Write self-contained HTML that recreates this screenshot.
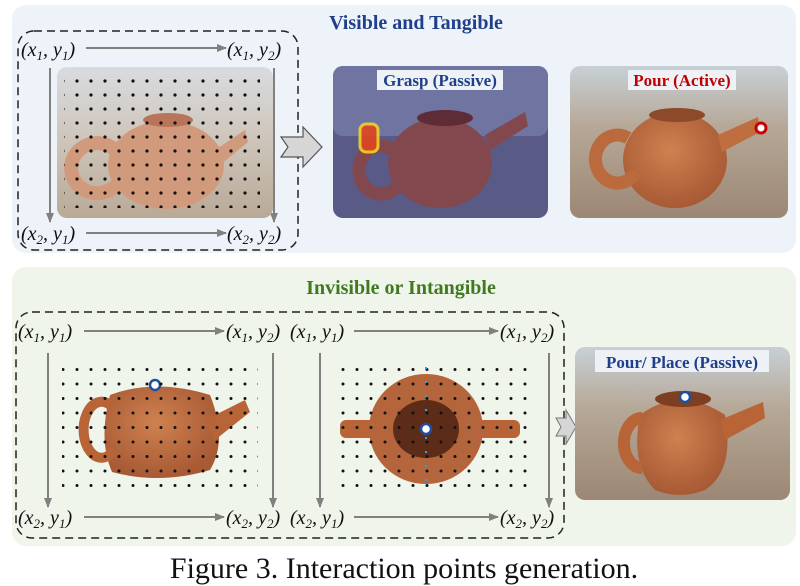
<!DOCTYPE html>
<html><head><meta charset="utf-8"><style>
html,body{margin:0;padding:0;background:#fff;}
svg{display:block;}
</style></head><body>
<svg width="800" height="586" viewBox="0 0 800 586" xmlns="http://www.w3.org/2000/svg" font-family="Liberation Serif, serif">
<defs>
<pattern id="dots" x="0" y="4" width="14" height="14" patternUnits="userSpaceOnUse"><circle cx="7" cy="7" r="1.6" fill="#111"/></pattern>
<pattern id="dots2" x="0" y="0" width="14" height="14.5" patternUnits="userSpaceOnUse"><circle cx="7" cy="7" r="1.5" fill="#111"/></pattern>
<linearGradient id="floor" x1="0" y1="0" x2="0" y2="1"><stop offset="0" stop-color="#d9dbe0"/><stop offset="0.45" stop-color="#cfc7bd"/><stop offset="1" stop-color="#b9a997"/></linearGradient>
<linearGradient id="floor3" x1="0" y1="0" x2="0" y2="1"><stop offset="0" stop-color="#c8d0d6"/><stop offset="0.4" stop-color="#b6a897"/><stop offset="1" stop-color="#9c8774"/></linearGradient>
<radialGradient id="pot" cx="0.45" cy="0.4" r="0.6"><stop offset="0" stop-color="#cf8150"/><stop offset="1" stop-color="#a75a34"/></radialGradient>
<marker id="ah" markerUnits="userSpaceOnUse" markerWidth="10" markerHeight="10" refX="9" refY="5" orient="auto"><path d="M0,1 L10,5 L0,9 z" fill="#808080"/></marker>
</defs>
<!-- top panel -->
<rect x="12" y="5" width="784" height="248" rx="14" fill="#eef3f9"/>
<text x="416" y="29" text-anchor="middle" font-size="20" font-weight="bold" fill="#1f3f8a">Visible and Tangible</text>
<rect x="18" y="31" width="280" height="219" rx="16" fill="none" stroke="#222" stroke-width="1.5" stroke-dasharray="8,5"/>
<g font-size="20" font-style="italic" fill="#111">
<text x="21" y="56">(x<tspan font-size="13" dy="4">1</tspan><tspan dy="-4">, y</tspan><tspan font-size="13" dy="4">1</tspan><tspan dy="-4">)</tspan></text>
<text x="227" y="56">(x<tspan font-size="13" dy="4">1</tspan><tspan dy="-4">, y</tspan><tspan font-size="13" dy="4">2</tspan><tspan dy="-4">)</tspan></text>
<text x="21" y="240">(x<tspan font-size="13" dy="4">2</tspan><tspan dy="-4">, y</tspan><tspan font-size="13" dy="4">1</tspan><tspan dy="-4">)</tspan></text>
<text x="227" y="240">(x<tspan font-size="13" dy="4">2</tspan><tspan dy="-4">, y</tspan><tspan font-size="13" dy="4">2</tspan><tspan dy="-4">)</tspan></text>
</g>
<g stroke="#808080" stroke-width="2" marker-end="url(#ah)">
<line x1="86" y1="48" x2="226" y2="48"/><line x1="86" y1="233" x2="226" y2="233"/>
<line x1="50" y1="68" x2="50" y2="222"/><line x1="274" y1="68" x2="274" y2="222"/>
</g>
<rect x="57" y="67" width="216" height="151" rx="10" fill="url(#floor)"/>
<g fill="#d29a7c"><ellipse cx="166" cy="165" rx="58" ry="44"/><path d="M115,150 a26,25 0 1,0 5,30" fill="none" stroke="#d29a7c" stroke-width="14"/><path d="M215,150 L245,130 L248,142 L220,165 z"/></g>
<ellipse cx="168" cy="120" rx="25" ry="7" fill="#b8755a"/>
<rect x="64" y="78" width="196" height="130" fill="url(#dots)"/>
<path d="M281,137 h22 v-10 l19,20 l-19,20 v-10 h-22 l7,-10 z" fill="#d6d6d6" stroke="#555" stroke-width="1.2"/>
<!-- image 2 -->
<rect x="333" y="66" width="215" height="152" rx="10" fill="#5a5a86"/>
<rect x="333" y="66" width="215" height="70" rx="10" fill="#6f74a0"/>
<g fill="#83484e"><ellipse cx="440" cy="163" rx="52" ry="45"/><path d="M393,150 a22,24 0 1,0 8,30" fill="none" stroke="#83484e" stroke-width="13"/><path d="M485,135 L525,112 L528,126 L490,150 z"/></g>
<ellipse cx="445" cy="118" rx="28" ry="8" fill="#5e2c36"/>
<rect x="360" y="124" width="18" height="28" rx="6" fill="#e0461e" stroke="#f2d323" stroke-width="3" opacity="0.9"/>
<rect x="377" y="70" width="126" height="20" fill="#eef2f6"/>
<text x="440" y="86" text-anchor="middle" font-size="17" font-weight="bold" fill="#1f3f8a">Grasp (Passive)</text>
<!-- image 3 -->
<rect x="570" y="66" width="218" height="152" rx="10" fill="url(#floor3)"/>
<g fill="url(#pot)"><ellipse cx="675" cy="160" rx="52" ry="48"/><path d="M628,138 a22,24 0 1,0 8,34" fill="none" stroke="#bb6a3e" stroke-width="13"/><path d="M718,135 L758,117 L760,132 L722,152 z" fill="#bf6e40"/></g>
<ellipse cx="677" cy="115" rx="28" ry="7" fill="#8c4a2a"/>
<circle cx="761" cy="128" r="5" fill="#fff" stroke="#c00" stroke-width="3"/>
<rect x="628" y="70" width="108" height="20" fill="#eef2f6"/>
<text x="682" y="86" text-anchor="middle" font-size="17" font-weight="bold" fill="#c00000">Pour (Active)</text>
<!-- bottom panel -->
<rect x="12" y="267" width="784" height="279" rx="14" fill="#eff5eb"/>
<text x="401" y="294" text-anchor="middle" font-size="20" font-weight="bold" fill="#3f7a1e">Invisible or Intangible</text>
<rect x="16" y="312" width="548" height="226" rx="16" fill="none" stroke="#222" stroke-width="1.5" stroke-dasharray="8,5"/>
<g font-size="20" font-style="italic" fill="#111">
<text x="18" y="338">(x<tspan font-size="13" dy="4">1</tspan><tspan dy="-4">, y</tspan><tspan font-size="13" dy="4">1</tspan><tspan dy="-4">)</tspan></text>
<text x="226" y="338">(x<tspan font-size="13" dy="4">1</tspan><tspan dy="-4">, y</tspan><tspan font-size="13" dy="4">2</tspan><tspan dy="-4">)</tspan></text>
<text x="290" y="338">(x<tspan font-size="13" dy="4">1</tspan><tspan dy="-4">, y</tspan><tspan font-size="13" dy="4">1</tspan><tspan dy="-4">)</tspan></text>
<text x="500" y="338">(x<tspan font-size="13" dy="4">1</tspan><tspan dy="-4">, y</tspan><tspan font-size="13" dy="4">2</tspan><tspan dy="-4">)</tspan></text>
<text x="18" y="524">(x<tspan font-size="13" dy="4">2</tspan><tspan dy="-4">, y</tspan><tspan font-size="13" dy="4">1</tspan><tspan dy="-4">)</tspan></text>
<text x="226" y="524">(x<tspan font-size="13" dy="4">2</tspan><tspan dy="-4">, y</tspan><tspan font-size="13" dy="4">2</tspan><tspan dy="-4">)</tspan></text>
<text x="290" y="524">(x<tspan font-size="13" dy="4">2</tspan><tspan dy="-4">, y</tspan><tspan font-size="13" dy="4">1</tspan><tspan dy="-4">)</tspan></text>
<text x="500" y="524">(x<tspan font-size="13" dy="4">2</tspan><tspan dy="-4">, y</tspan><tspan font-size="13" dy="4">2</tspan><tspan dy="-4">)</tspan></text>
</g>
<g stroke="#808080" stroke-width="2" marker-end="url(#ah)">
<line x1="84" y1="331" x2="224" y2="331"/><line x1="84" y1="517" x2="224" y2="517"/>
<line x1="354" y1="331" x2="498" y2="331"/><line x1="354" y1="517" x2="498" y2="517"/>
<line x1="48" y1="353" x2="48" y2="507"/><line x1="273" y1="353" x2="273" y2="507"/>
<line x1="320" y1="353" x2="320" y2="507"/><line x1="549" y1="353" x2="549" y2="507"/>
</g>
<!-- left pot -->
<g fill="url(#pot)"><path d="M110,395 Q155,378 210,395 Q228,440 210,470 Q160,485 112,472 Q98,440 110,395 z"/>
<path d="M110,405 a18,28 0 1,0 4,45" fill="none" stroke="#b86437" stroke-width="10"/><path d="M205,420 L245,400 L250,412 L215,440 z" fill="#b86437"/></g>
<circle cx="155" cy="385" r="5" fill="#fff" stroke="#1f4fa0" stroke-width="2.5"/>
<rect x="62" y="362" width="196" height="128" fill="url(#dots2)"/>
<!-- right top pot -->
<rect x="340" y="420" width="40" height="18" rx="6" fill="#b86437"/><rect x="470" y="420" width="50" height="18" rx="6" fill="#b86437"/>
<ellipse cx="426" cy="429" rx="57" ry="55" fill="#b5653b"/>
<ellipse cx="426" cy="429" rx="33" ry="29" fill="#5c2c18"/>
<rect x="334" y="362" width="196" height="128" fill="url(#dots2)"/>
<line x1="426" y1="367" x2="426" y2="485" stroke="#22a6e6" stroke-width="2" stroke-dasharray="2,12"/>
<circle cx="426" cy="429" r="5" fill="#fff" stroke="#1f4fa0" stroke-width="2.5"/>
<path d="M556,418 h10 v-8 l10,17 l-10,17 v-8 h-10 l5,-9 z" fill="#d6d6d6" stroke="#777" stroke-width="1"/>
<!-- right image -->
<rect x="575" y="347" width="215" height="153" rx="10" fill="url(#floor3)"/>
<g fill="url(#pot)"><path d="M640,415 Q680,385 725,415 Q735,470 705,490 Q680,500 655,490 Q630,465 640,415 z"/>
<path d="M642,418 a18,25 0 1,0 0,50" fill="none" stroke="#b86437" stroke-width="12"/><path d="M720,420 L763,402 L765,418 L725,440 z" fill="#b86437"/></g>
<ellipse cx="683" cy="399" rx="28" ry="8" fill="#7c3f22"/>
<circle cx="685" cy="397" r="5" fill="#fff" stroke="#1f4fa0" stroke-width="2.5"/>
<rect x="595" y="350" width="174" height="22" fill="#eef2f6"/>
<text x="682" y="368" text-anchor="middle" font-size="17" font-weight="bold" fill="#1f3f8a">Pour/ Place (Passive)</text>
<text x="404" y="578" text-anchor="middle" font-size="30" fill="#111">Figure 3. Interaction points generation.</text>
</svg>
</body></html>
